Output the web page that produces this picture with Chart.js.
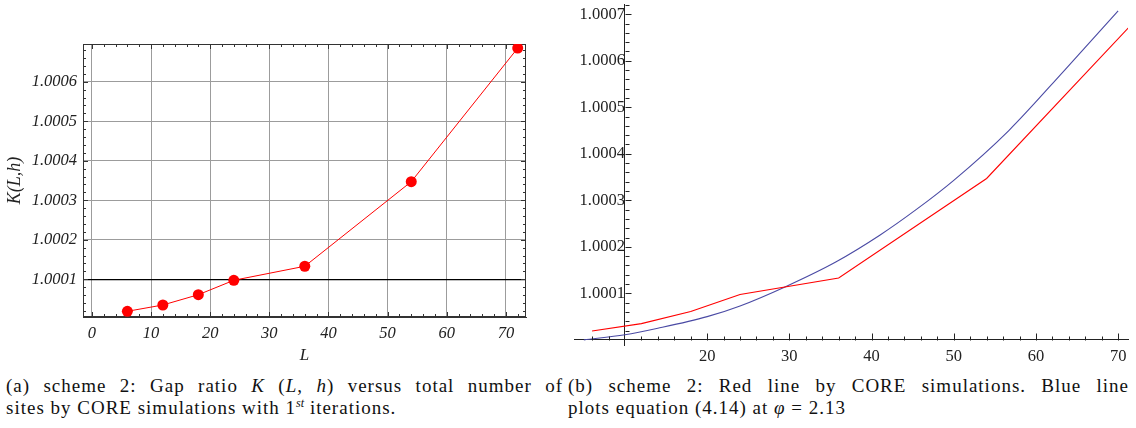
<!DOCTYPE html>
<html>
<head>
<meta charset="utf-8">
<script src="https://cdn.jsdelivr.net/npm/chart.js@4.4.1/dist/chart.umd.min.js"></script>
<style>
  body { margin: 0; background: #fff; width: 1136px; height: 428px; position: relative; overflow: hidden; font-family: "Liberation Serif", serif; }
  #boxA { position: absolute; left: 0; top: 0; width: 545px; height: 372px; }
  #boxB { position: absolute; left: 560px; top: -20px; width: 576px; height: 390px; }
  .cap { position: absolute; font-size: 19px; line-height: 22px; color: #111; letter-spacing: 1px; }
  #capA { left: 6px; top: 375px; width: 557px; }
  #capB { left: 568px; top: 375px; width: 561px; }
  .cap .l1 { text-align: justify; text-align-last: justify; }
  sup { font-size: 12px; line-height: 0; letter-spacing: 0; }
</style>
</head>
<body>
<div id="boxA"><canvas id="gapChart"></canvas></div>
<div id="boxB"><canvas id="compareChart"></canvas></div>
<div class="cap" id="capA">
  <div class="l1">(a) scheme 2: Gap ratio <i>K</i> (<i>L</i>, <i>h</i>) versus total number of</div>
  <div>sites by CORE simulations with 1<sup><i>st</i></sup> iterations.</div>
</div>
<div class="cap" id="capB">
  <div class="l1">(b) scheme 2: Red line by CORE simulations. Blue line</div>
  <div>plots equation (4.14) at <i>φ</i> = 2.13</div>
</div>
<script>
// CORE simulation results, gap ratio K(L,h) vs number of sites L
const lSites = [6, 12, 18, 24, 36, 54, 72];
const kRatio = [1.000019, 1.000035, 1.000061, 1.0000975, 1.000133, 1.000347, 1.000685];

// curve of equation (4.14) at phi = 2.13
const eqL = [5, 10, 14, 20, 24, 29.6, 35.7, 41, 45.5, 50, 56.7, 63.5, 70];
const eqK = [1.0, 1.000011, 1.000025, 1.00005, 1.000073, 1.000115, 1.000168, 1.000225, 1.000281, 1.000343, 1.00045, 1.00058, 1.000707];

// tick labels
const leftXTicks = [0, 10, 20, 30, 40, 50, 60, 70];
const leftKTicks = [1.0001, 1.0002, 1.0003, 1.0004, 1.0005, 1.0006];
const rightXTicks = [20, 30, 40, 50, 60, 70];
const rightKTicks = [1.0001, 1.0002, 1.0003, 1.0004, 1.0005, 1.0006, 1.0007];

const toPoints = (xs, ys) => xs.map((x, i) => ({ x: x, y: ys[i] }));
const fmtK = v => Number(v).toFixed(4);

// ticks on all four sides of the framed plot (mathematica style)
const frameTicks = {
  id: 'frameTicks',
  beforeDatasetsDraw(chart) {
    const { ctx, chartArea: a, scales: { x, y } } = chart;
    ctx.save();
    ctx.strokeStyle = '#333';
    ctx.lineWidth = 1;
    ctx.strokeRect(a.left + 0.5, a.top + 0.5, a.right - a.left - 1, a.bottom - a.top - 1);
    ctx.beginPath();
    for (let v = 0; v <= 72; v += 2) {
      const px = Math.round(x.getPixelForValue(v)) + 0.5;
      const len = v % 10 === 0 ? 5 : 3;
      ctx.moveTo(px, a.bottom); ctx.lineTo(px, a.bottom - len);
      ctx.moveTo(px, a.top); ctx.lineTo(px, a.top + len);
    }
    for (let i = 1; i <= 34; i++) {
      const py = Math.round(y.getPixelForValue(1 + i * 0.00002)) + 0.5;
      const len = i % 5 === 0 ? 5 : 3;
      ctx.moveTo(a.left, py); ctx.lineTo(a.left + len, py);
      ctx.moveTo(a.right, py); ctx.lineTo(a.right - len, py);
    }
    ctx.stroke();
    ctx.restore();
  }
};

// ticks pointing inwards from the crossing axes of the right panel
const axisTicks = {
  id: 'axisTicks',
  afterDatasetsDraw(chart) {
    const { ctx, scales: { x, y } } = chart;
    const ax = Math.round(x.getPixelForValue(10)) + 0.5;
    const ay = Math.round(y.getPixelForValue(1)) + 0.5;
    ctx.save();
    ctx.strokeStyle = '#222';
    ctx.lineWidth = 1;
    ctx.beginPath();
    for (let v = 6; v <= 70; v += 2) {
      if (v === 10) continue;
      const px = Math.round(x.getPixelForValue(v)) + 0.5;
      const len = v % 10 === 0 ? 7 : 4;
      ctx.moveTo(px, ay); ctx.lineTo(px, ay - len);
    }
    for (let i = 1; i <= 36; i++) {
      const py = Math.round(y.getPixelForValue(1 + i * 0.00002)) + 0.5;
      const len = i % 5 === 0 ? 6 : 4;
      ctx.moveTo(ax, py); ctx.lineTo(ax + len, py);
    }
    ctx.stroke();
    ctx.restore();
  }
};

const serif = '"Liberation Serif", "Times New Roman", serif';
const italicFont = { family: serif, size: 16.5, style: 'italic' };
const plainFont = { family: serif, size: 16.5 };

new Chart(document.getElementById('gapChart'), {
  type: 'line',
  data: {
    datasets: [{
      data: toPoints(lSites, kRatio),
      borderColor: '#ff0000',
      borderWidth: 1,
      backgroundColor: '#ff0000',
      pointRadius: 5.5,
      pointBorderWidth: 0,
      tension: 0
    }]
  },
  options: {
    responsive: true,
    maintainAspectRatio: false,
    animation: false,
    layout: { padding: { left: 0, right: 19, top: 44, bottom: 0 } },
    plugins: { legend: { display: false }, tooltip: { enabled: false } },
    scales: {
      x: {
        type: 'linear',
        min: -1.5,
        max: 73.4,
        afterBuildTicks: s => { s.ticks = leftXTicks.map(v => ({ value: v })); },
        afterFit: s => { s.height = 55; },
        ticks: { font: italicFont, color: '#222', padding: 7 },
        grid: { color: '#9c9c9c', drawTicks: false },
        border: { display: true, color: '#333' },
        title: { display: true, text: 'L', font: { family: serif, size: 17, style: 'italic' }, color: '#222', padding: { top: 0, bottom: 6 } }
      },
      y: {
        min: 1.0000046,
        max: 1.0006954,
        afterBuildTicks: s => { s.ticks = leftKTicks.map(v => ({ value: v })); },
        afterFit: s => { s.width = 83; },
        ticks: { font: italicFont, color: '#222', padding: 6, callback: fmtK },
        grid: {
          drawTicks: false,
          color: c => (c.tick && Math.abs(c.tick.value - 1.0001) < 1e-9) ? '#000' : '#9c9c9c',
          lineWidth: c => (c.tick && Math.abs(c.tick.value - 1.0001) < 1e-9) ? 1.3 : 1
        },
        border: { display: true, color: '#333' },
        title: { display: true, text: 'K(L,h)', font: { family: serif, size: 18, style: 'italic' }, color: '#222', padding: { top: 4, bottom: 0 } }
      }
    }
  },
  plugins: [frameTicks]
});

new Chart(document.getElementById('compareChart'), {
  type: 'line',
  data: {
    datasets: [{
      data: toPoints(lSites, kRatio),
      borderColor: '#ff0000',
      borderWidth: 1.1,
      pointRadius: 0,
      tension: 0
    }, {
      data: toPoints(eqL, eqK),
      borderColor: '#4a4aa4',
      borderWidth: 1.1,
      pointRadius: 0,
      cubicInterpolationMode: 'monotone'
    }]
  },
  options: {
    responsive: true,
    maintainAspectRatio: false,
    animation: false,
    layout: { padding: { left: 14, right: 8, top: 24, bottom: 25 } },
    plugins: { legend: { display: false }, tooltip: { enabled: false } },
    scales: {
      x: {
        type: 'linear',
        position: { y: 1 },
        min: 3.8,
        max: 71.2,
        afterBuildTicks: s => { s.ticks = rightXTicks.map(v => ({ value: v })); },
        ticks: { font: plainFont, color: '#222', padding: 7 },
        grid: { drawOnChartArea: false, drawTicks: false },
        border: { display: true, color: '#222' }
      },
      y: {
        position: { x: 10 },
        min: 0.999989,
        max: 1.000722,
        afterBuildTicks: s => { s.ticks = rightKTicks.map(v => ({ value: v })); },
        ticks: { font: plainFont, color: '#222', padding: 6, callback: fmtK },
        grid: { drawOnChartArea: false, drawTicks: false },
        border: { display: true, color: '#222' }
      }
    }
  },
  plugins: [axisTicks]
});
</script>
</body>
</html>
